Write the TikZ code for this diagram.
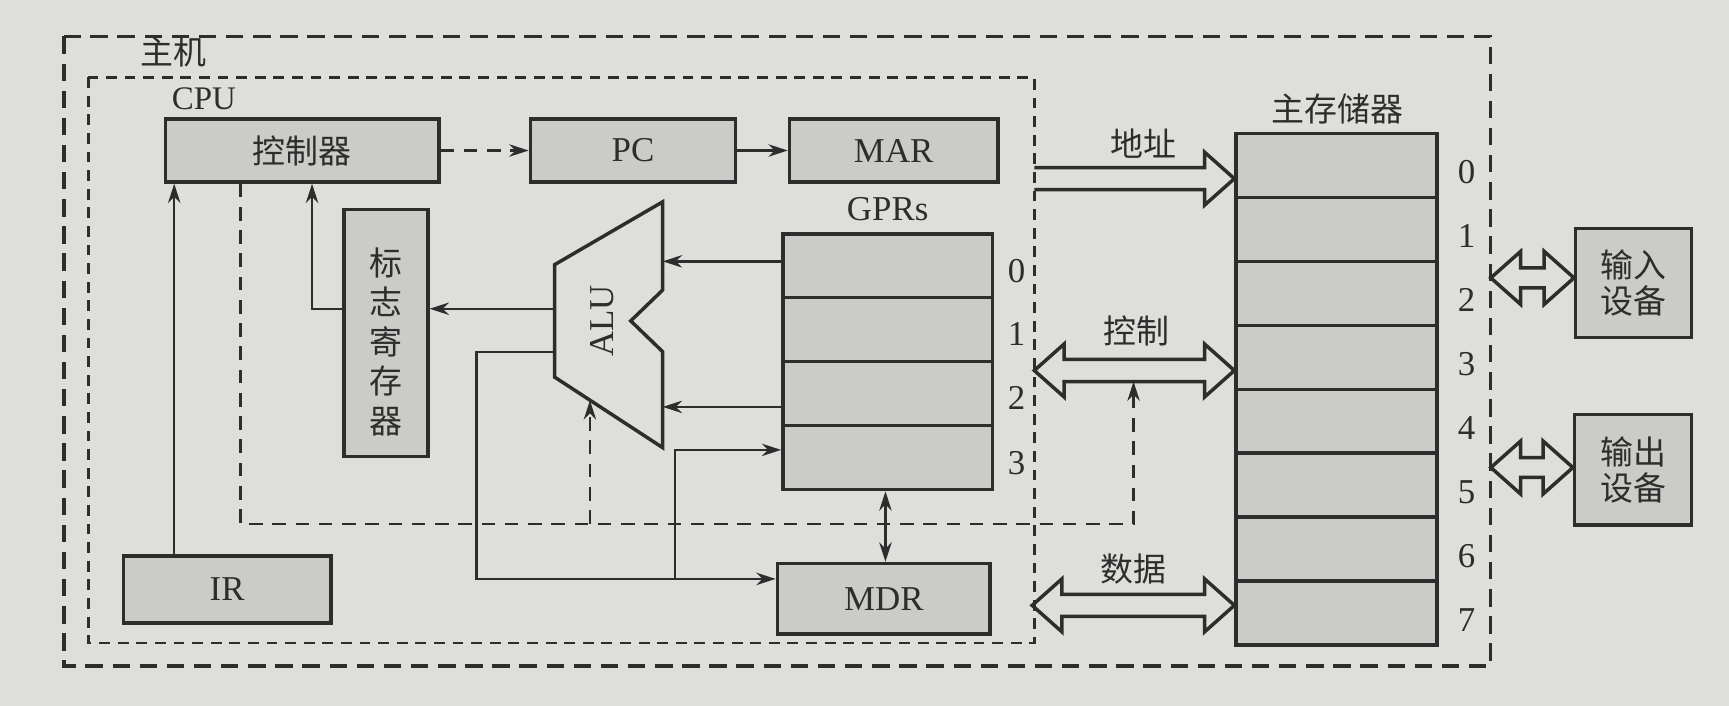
\documentclass[tikz,border=0pt]{standalone}
\usepackage{fontspec}
\setmainfont{Liberation Serif}
\newfontfamily\cjk{Noto Sans CJK SC}
\usetikzlibrary{arrows.meta,calc}
\definecolor{paper}{RGB}{222,222,219}
\definecolor{boxfill}{RGB}{203,203,200}
\definecolor{ink}{RGB}{45,45,45}
\tikzset{
  box/.style={draw=ink, fill=boxfill, line width=0.9pt, inner sep=0pt, text=ink, font=\fontsize{9}{10}\selectfont},
  cbox/.style={box, font=\cjk\fontsize{8.5}{10}\selectfont},
  lat/.style={inner sep=0pt, text=ink, font=\fontsize{9}{10}\selectfont},
  ctext/.style={inner sep=0pt, text=ink, font=\cjk\fontsize{8.5}{10}\selectfont},
  wire/.style={draw=ink, line width=0.6pt},
  ctl/.style={draw=ink, line width=0.6pt, dash pattern=on 3.5pt off 2.5pt},
  tip/.style={-{Stealth[length=5pt,width=3.2pt]}},
  tips/.style={{Stealth[length=5pt,width=3.2pt]}-{Stealth[length=5pt,width=3.2pt]}},
  bus/.style={draw=ink, line width=0.9pt, line join=miter},
  outerbox/.style={draw=ink, line width=0.8pt, dash pattern=on 4.5pt off 2.5pt},
  innerbox/.style={draw=ink, line width=0.7pt, dash pattern=on 2.8pt off 2pt}
}
\newcommand{\dbus}[4]{% left, right, head half, shaft half
  \draw[bus] (#1) -- ($(#1)+(27,-#3)$) -- ($(#1)+(27,-#4)$) -- ($(#2)+(-27,-#4)$) -- ($(#2)+(-27,-#3)$) -- (#2)
    -- ($(#2)+(-27,#3)$) -- ($(#2)+(-27,#4)$) -- ($(#1)+(27,#4)$) -- ($(#1)+(27,#3)$) -- cycle;}
\newcommand{\sbus}[2]{%
  \draw[bus] ($(#1)+(0,-10)$) -- ($(#2)+(-27,-10)$) -- ($(#2)+(-27,-24)$) -- (#2)
    -- ($(#2)+(-27,24)$) -- ($(#2)+(-27,10)$) -- ($(#1)+(0,10)$);}
\begin{document}
\begin{tikzpicture}[x=0.1mm,y=-0.1mm]
\fill[paper] (0,0) rectangle (1568,640);
\useasboundingbox (0,0) rectangle (1568,640);

% frames
\draw[outerbox] (58,33) rectangle (1352,604);
\draw[innerbox] (80,70) rectangle (938,583);
\node[ctext] (zhuji) at (157,47) {主机};
\node[lat, font=\fontsize{8.5}{10}\selectfont] (cpu) at (185,90) {CPU};

% CPU parts
\node[cbox, minimum width=24.8mm, minimum height=5.7mm] (ctrl) at (274,136.5) {控制器};
\node[box, minimum width=18.6mm, minimum height=5.7mm] (pc) at (574,136.5) {PC};
\node[box, minimum width=18.9mm, minimum height=5.7mm] (mar) at (810.5,136.5) {MAR};
\node[box, minimum width=7.6mm, minimum height=22.4mm] (flag) at (350,302) {};
\node[ctext, align=center, font=\cjk\fontsize{8.5}{10.2}\selectfont] (flagt) at (350,310) {标\\志\\寄\\存\\器};

\node[lat] (gprl) at (805,190) {GPRs};
\foreach \i/\y in {0/241,1/299,2/357,3/415}{
  \node[box, minimum width=19mm, minimum height=5.8mm] (g\i) at (805,\y) {};
}
\foreach \i/\y in {0/246,1/303,2/361,3/420}{
  \node[lat] (gn\i) at (922,\y) {\i};
}
\node[box, minimum width=19.3mm, minimum height=6.4mm] (mdr) at (801.5,543) {MDR};
\node[box, minimum width=18.8mm, minimum height=6.1mm] (ir) at (206,534.5) {IR};

% ALU
\draw[ink, line width=0.9pt, line join=miter] (601,183) -- (601,263) -- (572,291) -- (601,319) -- (601,406) -- (503,342) -- (503,240) -- cycle;
\node[lat, rotate=90] (alu) at (546,291) {ALU};
\coordinate (aluR0) at (601,237);
\coordinate (aluR2) at (601,369);
\coordinate (aluL1) at (503,280);
\coordinate (aluL2) at (503,319);
\coordinate (aluB) at (535,363);

% memory
\node[ctext] (memt) at (1213,99) {主存储器};
\foreach \i in {0,...,7}{
  \node[box, minimum width=18.2mm, minimum height=5.8mm] (m\i) at (1212,{150+58*\i}) {};
  \node[lat] (mn\i) at (1330,{156+58*\i}) {\i};
}

% I/O devices
\node[cbox, minimum width=10.5mm, minimum height=9.9mm, align=center, font=\cjk\fontsize{8.5}{9.4}\selectfont] (in) at (1481.5,256.5) {输入\\设备};
\node[cbox, minimum width=10.6mm, minimum height=10mm, align=center, font=\cjk\fontsize{8.5}{9.4}\selectfont] (out) at (1481,426) {输出\\设备};

% connectors in CPU
\draw[ctl, tip] (ctrl.east) -- (pc.west);
\draw[wire, tip] (pc.east) -- (mar.west);
\coordinate (irx) at (158,0);
\draw[wire, tip] (ir.north -| irx) -- (ctrl.south -| irx);
\coordinate (fx) at (283,280);
\draw[wire, tip] (flag.west |- fx) -- (fx) -- (fx |- ctrl.south);
\draw[wire, tip] (aluL1) -- (aluL1 -| flag.east);
\draw[wire, tip] (g0.west |- aluR0) -- (aluR0);
\draw[wire, tip] (g2.west |- aluR2) -- (aluR2);
\coordinate (bl) at (432,525);
\draw[wire, tip] (aluL2) -| (bl) -- (bl -| mdr.west);
\coordinate (br) at (612,408);
\draw[wire, tip] (br |- bl) -- (br) -- (br -| g3.west);
\coordinate (gm) at (803,0);
\draw[wire, tips] (g3.south -| gm) -- (mdr.north -| gm);

% control dashed lines
\coordinate (cd) at (218,475);
\coordinate (ctlbus) at (1028,346);
\draw[ctl, tip] (ctrl.south -| cd) -- (cd) -- (cd -| ctlbus) -- (ctlbus);
\draw[ctl, tip] (cd -| aluB) -- (aluB);

% buses
\coordinate (aL) at (938,162);
\coordinate (aR) at (m0.west |- aL);
\sbus{aL}{aR}
\node[ctext] (addrt) at (1037,130) {地址};
\coordinate (cL) at (938,336);
\coordinate (cR) at (m0.west |- cL);
\dbus{cL}{cR}{24}{10}
\node[ctext] (ctrlt) at (1031,300) {控制};
\coordinate (dL) at (936,549);
\coordinate (dR) at (m0.west |- dL);
\dbus{dL}{dR}{24}{10}
\node[ctext] (datat) at (1028,516) {数据};
\coordinate (iL) at (1352,252);
\coordinate (iR) at (in.west |- iL);
\dbus{iL}{iR}{24}{9}
\coordinate (oL) at (1352,424);
\coordinate (oR) at (out.west |- oL);
\dbus{oL}{oR}{24}{9}
\end{tikzpicture}
\end{document}
